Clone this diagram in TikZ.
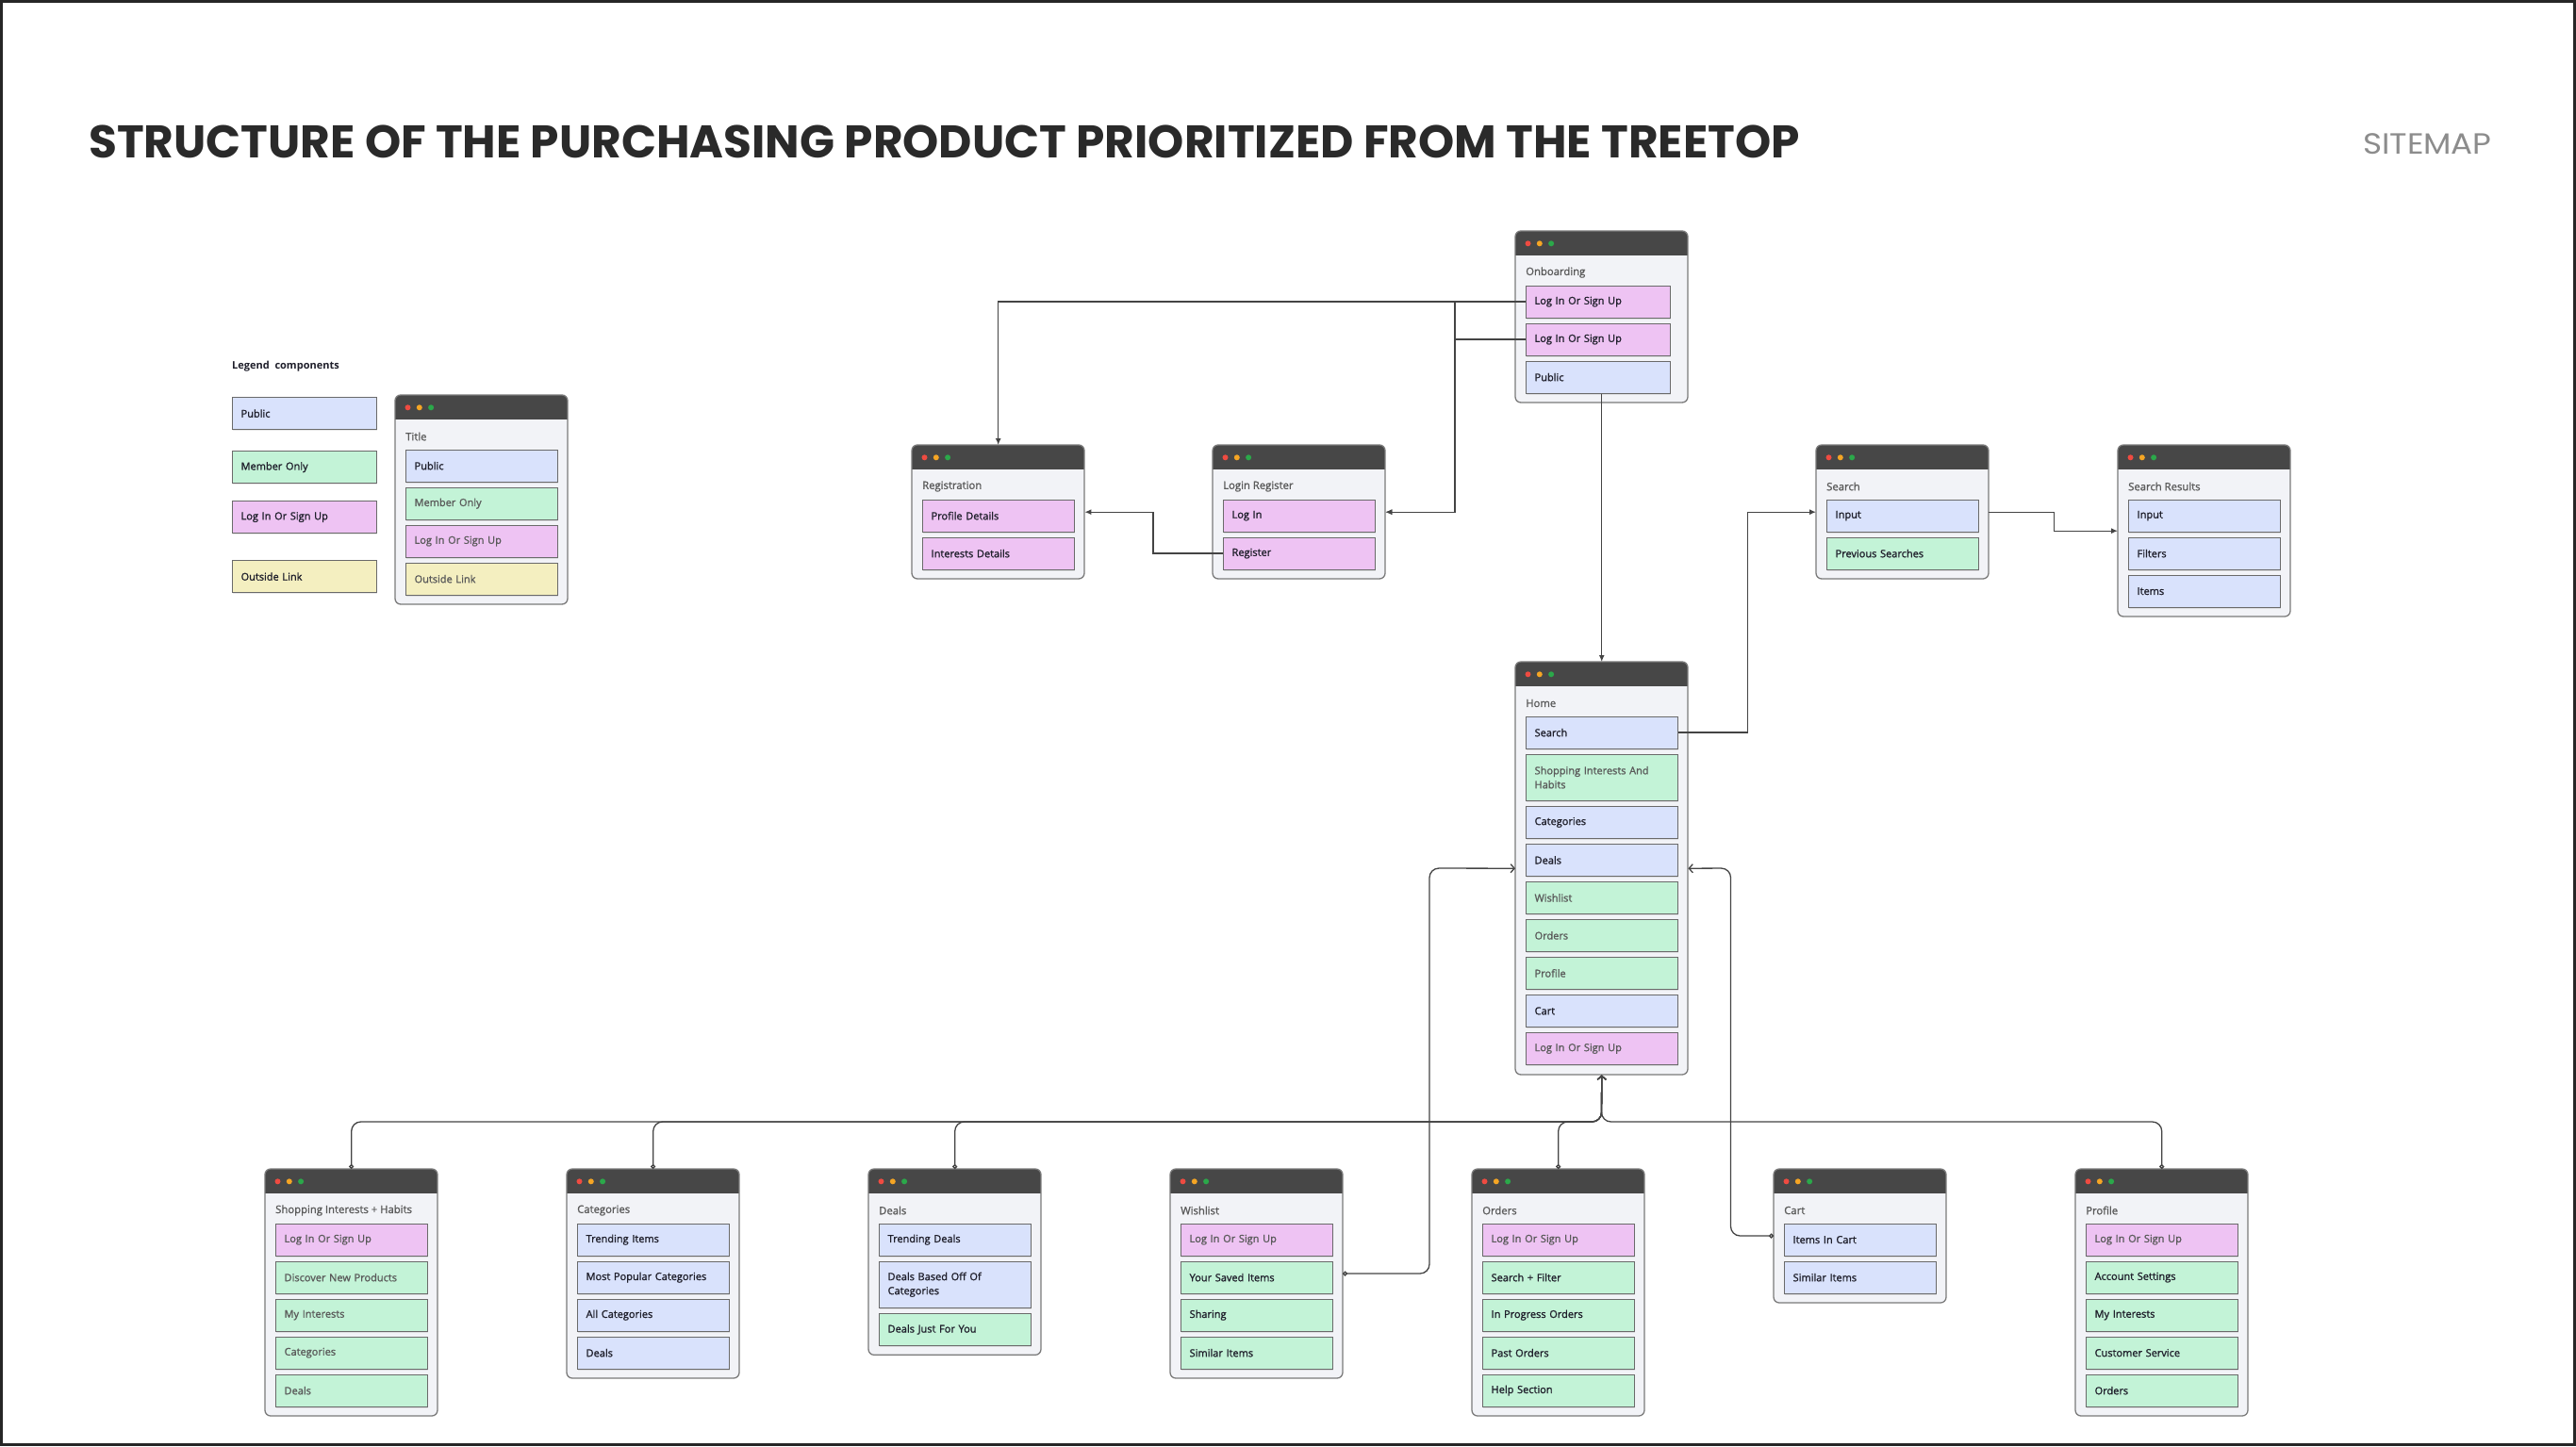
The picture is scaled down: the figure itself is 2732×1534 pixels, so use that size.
\documentclass[tikz,border=0pt]{standalone}
\usepackage{fontspec}
\setmainfont{Open Sans}
\newfontfamily\sbf{Open Sans}[FakeBold=1.3]
\newfontfamily\ttlf{Poppins}
\newfontfamily\smf{Poppins}
\usetikzlibrary{arrows.meta,shadows,calc}

\definecolor{hdrc}{HTML}{474747}
\definecolor{bodyc}{HTML}{F2F3F7}
\definecolor{wbord}{HTML}{7A7A7A}
\definecolor{ibord}{HTML}{6A6A6A}
\definecolor{pubc}{HTML}{D9E2FC}
\definecolor{memc}{HTML}{C3F3D7}
\definecolor{logc}{HTML}{EEC3F3}
\definecolor{outc}{HTML}{F4EFC0}
\definecolor{dkt}{HTML}{1F1F2B}
\definecolor{gyt}{HTML}{5A5A5A}
\definecolor{lnc}{HTML}{444444}
\definecolor{dred}{HTML}{EF4B41}
\definecolor{dorg}{HTML}{F5A524}
\definecolor{dgrn}{HTML}{2BA84A}
\definecolor{ttlc}{HTML}{2A2A2A}
\definecolor{smc}{HTML}{8C8C8C}

\tikzset{
  item/.style={draw=ibord, line width=1.2pt, minimum width=161pt, minimum height=34pt,
    text width=143pt, align=left, inner xsep=9pt, inner ysep=0pt, anchor=north west,
    font=\sbf\fontsize{11}{15}\selectfont,
    drop shadow={shadow xshift=0.6pt, shadow yshift=-1.4pt, opacity=0.18}},
  narrow/.style={minimum width=153pt, text width=135pt},
  pub/.style={item, fill=pubc},
  mem/.style={item, fill=memc},
  logi/.style={item, fill=logc},
  outl/.style={item, fill=outc},
  dk/.style={text=dkt},
  gy/.style={text=gyt},
  wtitle/.style={anchor=west, inner sep=0pt, text=gyt, font=\sbf\fontsize{11.3}{13}\selectfont},
  lnk/.style={draw=lnc, line width=1.3pt},
  arrF/.style={lnk, -{Latex[length=7pt,width=6pt]}},
  arrO/.style={lnk, rounded corners=10pt, {Circle[open,length=5pt,width=5pt]}-{Straight Barb[length=4pt,width=9pt]}},
}

\newcommand\wnd[5]{%
  \begin{scope}
    \clip[rounded corners=6pt] (#2,#3) rectangle ++(183,#4);
    \fill[bodyc] (#2,#3) rectangle ++(183,#4);
    \fill[hdrc] (#2,#3) rectangle ++(183,26);
  \end{scope}
  \draw[wbord, line width=1.3pt, rounded corners=6pt] (#2,#3) rectangle ++(183,#4);
  \fill[dred] ($(#2,#3)+(13.5,13.3)$) circle (3);
  \fill[dorg] ($(#2,#3)+(25.8,13.3)$) circle (3);
  \fill[dgrn] ($(#2,#3)+(38.1,13.3)$) circle (3);
  \node[wtitle] at ($(#2,#3)+(11,44)$) {#5};
  \node[inner sep=0pt, minimum width=183pt, minimum height=#4pt, anchor=north west] (#1) at (#2,#3) {};
}
\newcommand\itm[5]{\node[#1] (#2) at (#3,#4) {#5};}

\begin{document}
\begin{tikzpicture}[x=1pt,y=-1pt]
\useasboundingbox (0,0) rectangle (2732,1534);
\fill[white] (0,0) rectangle (2732,1534);
\draw[black!85, line width=3pt] (1.5,1.5) rectangle (2730.5,1532.5);

% headings
\node[anchor=base west, inner sep=0pt, text=ttlc, font=\ttlf\bfseries\fontsize{48.6}{52}\selectfont] (ttl) at (94,167)
  {STRUCTURE OF THE PURCHASING PRODUCT PRIORITIZED FROM THE TREETOP};
\node[anchor=base west, inner sep=0pt, text=smc, font=\smf\fontsize{31}{33}\selectfont] (smap) at (2506,163) {\scalebox{1.1}[1]{SITEMAP}};

% legend
\node[anchor=west, inner sep=0pt, text=dkt, font=\bfseries\fontsize{11}{13}\selectfont] (lgt) at (246,389) {Legend\ \ components};
\itm{pub,dk,narrow}{lg1}{246}{421}{Public}
\itm{mem,dk,narrow}{lg2}{246}{478}{Member Only}
\itm{logi,dk,narrow}{lg3}{246}{531}{Log In Or Sign Up}
\itm{outl,dk,narrow}{lg4}{246}{594}{Outside Link}

\wnd{lw}{419}{419}{222}{Title}
\itm{pub,dk}{lw1}{430}{476.5}{Public}
\itm{mem,gy}{lw2}{430}{516.5}{Member Only}
\itm{logi,gy}{lw3}{430}{556.5}{Log In Or Sign Up}
\itm{outl,gy}{lw4}{430}{596.5}{Outside Link}

% onboarding
\wnd{ob}{1607}{245}{182}{Onboarding}
\itm{logi,dk,narrow}{ob1}{1618}{302.5}{Log In Or Sign Up}
\itm{logi,dk,narrow}{ob2}{1618}{342.5}{Log In Or Sign Up}
\itm{pub,dk,narrow}{ob3}{1618}{382.5}{Public}

% registration
\wnd{reg}{967}{472}{142}{Registration}
\itm{logi,dk}{reg1}{978}{529.5}{Profile Details}
\itm{logi,dk}{reg2}{978}{569.5}{Interests Details}

% login register
\wnd{lr}{1286}{472}{142}{Login Register}
\itm{logi,dk}{lr1}{1297}{529.5}{Log In}
\itm{logi,dk}{lr2}{1297}{569.5}{Register}

% search
\wnd{srch}{1926}{472}{142}{Search}
\itm{pub,dk}{s1}{1937}{529.5}{Input}
\itm{mem,dk}{s2}{1937}{569.5}{Previous Searches}

% search results
\wnd{sres}{2246}{472}{182}{Search Results}
\itm{pub,dk}{sr1}{2257}{529.5}{Input}
\itm{pub,dk}{sr2}{2257}{569.5}{Filters}
\itm{pub,dk}{sr3}{2257}{609.5}{Items}

% home
\wnd{home}{1607}{702}{438}{Home}
\itm{pub,dk}{h1}{1618}{759.5}{Search}
\itm{mem,gy,minimum height=49.3pt}{h2}{1618}{799.5}{Shopping Interests And\\Habits}
\itm{pub,dk}{h3}{1618}{854.8}{Categories}
\itm{pub,dk}{h4}{1618}{894.8}{Deals}
\itm{mem,gy}{h5}{1618}{934.8}{Wishlist}
\itm{mem,gy}{h6}{1618}{974.8}{Orders}
\itm{mem,gy}{h7}{1618}{1014.8}{Profile}
\itm{pub,dk}{h8}{1618}{1054.8}{Cart}
\itm{logi,gy}{h9}{1618}{1094.8}{Log In Or Sign Up}

% bottom row
\wnd{sh}{281}{1240}{262}{Shopping Interests + Habits}
\itm{logi,gy}{sh1}{292}{1297.5}{Log In Or Sign Up}
\itm{mem,gy}{sh2}{292}{1337.5}{Discover New Products}
\itm{mem,gy}{sh3}{292}{1377.5}{My Interests}
\itm{mem,gy}{sh4}{292}{1417.5}{Categories}
\itm{mem,gy}{sh5}{292}{1457.5}{Deals}

\wnd{cat}{601}{1240}{222}{Categories}
\itm{pub,dk}{ca1}{612}{1297.5}{Trending Items}
\itm{pub,dk}{ca2}{612}{1337.5}{Most Popular Categories}
\itm{pub,dk}{ca3}{612}{1377.5}{All Categories}
\itm{pub,dk}{ca4}{612}{1417.5}{Deals}

\wnd{dl}{921}{1240}{197.3}{Deals}
\itm{pub,dk}{dl1}{932}{1297.5}{Trending Deals}
\itm{pub,dk,minimum height=49.3pt}{dl2}{932}{1337.5}{Deals Based Off Of\\Categories}
\itm{mem,dk}{dl3}{932}{1392.8}{Deals Just For You}

\wnd{wl}{1241}{1240}{222}{Wishlist}
\itm{logi,gy}{wl1}{1252}{1297.5}{Log In Or Sign Up}
\itm{mem,dk}{wl2}{1252}{1337.5}{Your Saved Items}
\itm{mem,dk}{wl3}{1252}{1377.5}{Sharing}
\itm{mem,dk}{wl4}{1252}{1417.5}{Similar Items}

\wnd{ord}{1561}{1240}{262}{Orders}
\itm{logi,gy}{or1}{1572}{1297.5}{Log In Or Sign Up}
\itm{mem,dk}{or2}{1572}{1337.5}{Search + Filter}
\itm{mem,dk}{or3}{1572}{1377.5}{In Progress Orders}
\itm{mem,dk}{or4}{1572}{1417.5}{Past Orders}
\itm{mem,dk}{or5}{1572}{1457.5}{Help Section}

\wnd{ct}{1881}{1240}{142}{Cart}
\itm{pub,dk}{ct1}{1892}{1297.5}{Items In Cart}
\itm{pub,dk}{ct2}{1892}{1337.5}{Similar Items}

\wnd{pf}{2201}{1240}{262}{Profile}
\itm{logi,gy}{pf1}{2212}{1297.5}{Log In Or Sign Up}
\itm{mem,dk}{pf2}{2212}{1337.5}{Account Settings}
\itm{mem,dk}{pf3}{2212}{1377.5}{My Interests}
\itm{mem,dk}{pf4}{2212}{1417.5}{Customer Service}
\itm{mem,dk}{pf5}{2212}{1457.5}{Orders}

% connectors (top)
\draw[arrF] (ob1.west) -| (reg.north);
\draw[arrF] (ob1.west) -- ++(-75,0) |- (lr.east);
\draw[arrF] (ob2.west) -- ++(-75,0) |- (lr.east);
\draw[arrF] (lr2.west) -- ++(-74,0) |- (reg.east);
\draw[arrF] (ob3.south -| ob.south) -- (home.north);
\draw[arrF] (h1.east) -- ++(73,0) |- (srch.west);
\draw[arrF] (srch.east) -- ++(69,0) |- (sres.west);

% bottom bus
\coordinate (bus) at (1698.5,1190);
\coordinate (wlx) at (1516,921);
\coordinate (ctx) at (1835.5,921);
\coordinate (wls) at (1424,1351);
\coordinate (cts) at (1881,1311);
\foreach \w in {sh,cat,dl,ord,pf}{
  \draw[arrO] (\w.north) |- (bus) -- (home.south);
}
\draw[arrO] (wls) -| (wlx) -- (home.west);
\draw[arrO] (cts) -| (ctx) -- (home.east);
\end{tikzpicture}
\end{document}
